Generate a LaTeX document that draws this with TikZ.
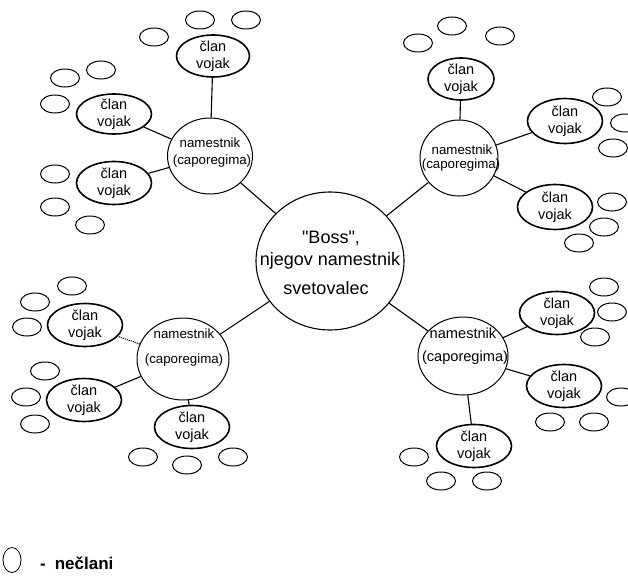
\documentclass[tikz,border=0pt]{standalone}
\usepackage{fontspec}
\setmainfont{Liberation Sans}
\usetikzlibrary{shapes.geometric}
\begin{document}
\begin{tikzpicture}[x=1pt,y=-1pt,
  boss/.style={draw, ellipse, line width=1.1pt, minimum width=148pt, minimum height=138pt, inner sep=0pt},
  capo/.style={draw, ellipse, line width=1pt, inner sep=0pt},
  clan/.style={draw, ellipse, line width=1.6pt, minimum width=75pt, minimum height=43pt, inner sep=0pt},
  non/.style={draw, ellipse, line width=1pt, minimum width=29pt, minimum height=18pt, inner sep=0pt},
  lbl/.style={font=\fontsize{14.5}{17}\selectfont, align=center, inner sep=0pt},
  clbl/.style={font=\fontsize{13.3}{15}\selectfont, inner sep=0pt},
  blbl/.style={font=\fontsize{14.6}{16}\selectfont, inner sep=0pt},
  mlbl/.style={font=\fontsize{18}{20}\selectfont, inner sep=0pt},
  link/.style={line width=1.1pt}]
\useasboundingbox (0,0) rectangle (628,575);
\clip (0,0) rectangle (628,575);

% central
\node[boss] (boss) at (330,261) {};
\node[mlbl] (bt1) at (331,238) {\textquotedbl Boss\textquotedbl,};
\node[mlbl] (bt2) at (330,261) {njegov namestnik};
\node[mlbl] (bt3) at (326,288) {svetovalec};

% caporegime circles
\node[capo, minimum width=85pt, minimum height=76pt] (ctl) at (210,156) {};
\node[capo, minimum width=78pt, minimum height=76pt] (ctr) at (459,158) {};
\node[capo, minimum width=92pt, minimum height=82pt] (cbl) at (183,359) {};
\node[capo, minimum width=90pt, minimum height=78pt] (cbr) at (463,356) {};

\node[clbl] (ttl1) at (210,143) {namestnik};
\node[clbl] (ttl2) at (212,161) {(caporegima)};
\node[clbl] (ttr1) at (462,150) {namestnik};
\node[clbl] (ttr2) at (461,165) {(caporegima)};
\node[clbl] (tbl1) at (184,334) {namestnik};
\node[clbl] (tbl2) at (184,360) {(caporegima)};
\node[blbl] (tbr1) at (463,333) {namestnik};
\node[blbl] (tbr2) at (465,358) {(caporegima)};

% clan vojak
\node[clan, minimum width=73pt, minimum height=42pt] (a1) at (213,56) {};
\node[clan, minimum height=40pt] (a2) at (114,114) {};
\node[clan] (a3) at (114,183) {};
\node[clan, minimum width=66pt, minimum height=42pt] (b1) at (461,79) {};
\node[clan, minimum height=45pt] (b2) at (565,121) {};
\node[clan, minimum height=45pt] (b3) at (555,207) {};
\node[clan] (c1) at (85,325) {};
\node[clan] (c2) at (84,400) {};
\node[clan] (c3) at (192,427) {};
\node[clan] (d1) at (557,313) {};
\node[clan] (d2) at (564,386) {};
\node[clan] (d3) at (474,446) {};

\foreach \n in {a1,a2,a3,b1,b2,b3,c1,c2,c3,d1,d2,d3}
  \node[lbl] (t\n) at (\n) {član\\vojak};

% non-members
\foreach \i/\p in {1/{(154,37)},2/{(200,20)},3/{(246,20)},4/{(65,78)},5/{(101,70)},6/{(55,104)},
  7/{(55,174)},8/{(55,207)},9/{(90,225)},
  10/{(418,43)},11/{(452,26)},12/{(500,36)},13/{(607,97)},14/{(625,123)},15/{(613,148)},
  16/{(612,202)},17/{(604,227)},18/{(579,243)},
  19/{(72,286)},20/{(35,302)},21/{(27,327)},22/{(45,371)},23/{(26,397)},24/{(35,424)},
  25/{(143,457)},26/{(187,465)},27/{(233,457)},
  28/{(604,287)},29/{(612,312)},30/{(595,337)},31/{(621,397)},32/{(550,422)},33/{(594,422)},
  34/{(414,457)},35/{(441,481)},36/{(487,481)}}
  \node[non] (n\i) at \p {};

% connectors
\draw[link] (ctl) -- (boss);
\draw[link] (ctr) -- (boss);
\draw[link] (cbl) -- (boss);
\draw[link] (cbr) -- (boss);
\draw[link] (ctl) -- (a1);
\draw[link] (ctl) -- (a2);
\draw[link] (ctl) -- (a3);
\draw[link] (ctr) -- (b1);
\draw[link] (ctr) -- (b2);
\draw[link] (ctr) -- (b3);
\draw[link, densely dotted] (cbl) -- (c1);
\draw[link] (cbl) -- (c2);
\draw[link] (cbl) -- (c3);
\draw[link] (cbr) -- (d1);
\draw[link] (cbr) -- (d2);
\draw[link] (cbr) -- (d3);

% legend
\node[draw, ellipse, line width=0.8pt, minimum width=18pt, minimum height=25pt, inner sep=0pt] (leg) at (12,560) {};
\node[font=\bfseries\fontsize{17}{19}\selectfont, anchor=west, inner sep=0pt] (legt) at (40,563) {-\hspace{9pt}nečlani};
\end{tikzpicture}
\end{document}
